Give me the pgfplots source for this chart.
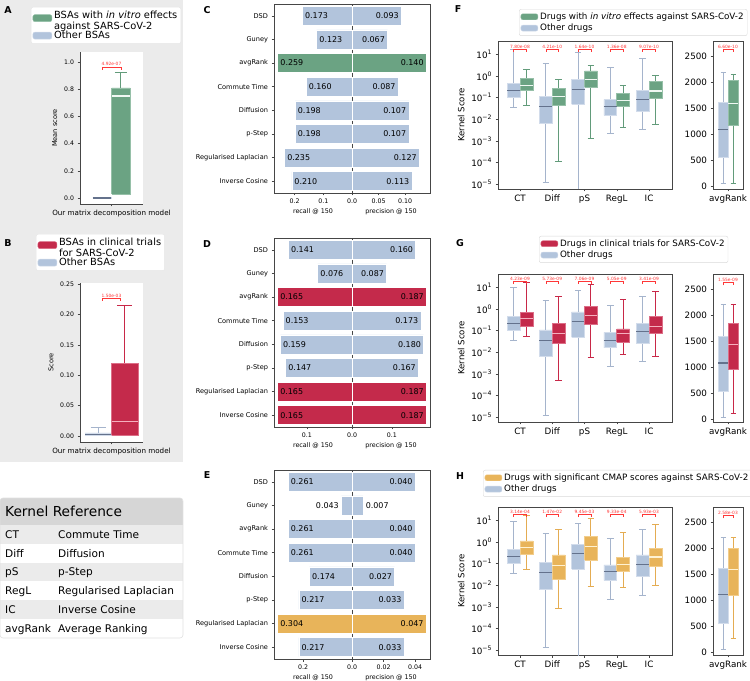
\documentclass[border=0pt]{standalone}
\usepackage{fontspec}
\setmainfont{DejaVu Sans}
\usepackage{pgfplots}
\pgfplotsset{compat=1.18}
\definecolor{steel}{RGB}{178,196,220}
\definecolor{steeledge}{RGB}{210,220,235}
\definecolor{steelwhisk}{RGB}{165,180,204}
\definecolor{steelmed}{RGB}{100,114,140}
\definecolor{gfill}{RGB}{107,163,131}
\definecolor{gedge}{RGB}{150,192,168}
\definecolor{gwhisk}{RGB}{98,155,122}
\definecolor{gmed}{RGB}{240,248,243}
\definecolor{rfill}{RGB}{196,42,75}
\definecolor{redge}{RGB}{220,110,135}
\definecolor{rwhisk}{RGB}{200,40,72}
\definecolor{rmed}{RGB}{245,175,190}
\definecolor{ofill}{RGB}{232,180,90}
\definecolor{oedge}{RGB}{242,205,140}
\definecolor{owhisk}{RGB}{228,172,82}
\definecolor{omed}{RGB}{255,242,210}
\definecolor{bgpanel}{RGB}{235,235,235}
\definecolor{hdr}{RGB}{214,214,214}
\definecolor{spine}{RGB}{70,70,70}
\definecolor{pcol}{RGB}{255,55,55}

% box half width and cap half width (axis units)
\def\bhw{0.2}\def\chw{0.1}
% box: centre x, lower whisker, q1, median, q3, upper whisker, style prefix (s,g,r,o)
\newcommand{\kb}[7]{%
 \pgfmathsetmacro\xl{#1-\bhw}\pgfmathsetmacro\xr{#1+\bhw}\pgfmathsetmacro\cl{#1-\chw}\pgfmathsetmacro\cra{#1+\chw}%
 \edef\tmp{%
 \noexpand\addplot[forget plot,#7whisk] coordinates {(#1,#2) (#1,#3)};
 \noexpand\addplot[forget plot,#7whisk] coordinates {(#1,#5) (#1,#6)};
 \noexpand\addplot[forget plot,#7whisk] coordinates {(\cl,#2) (\cra,#2)};
 \noexpand\addplot[forget plot,#7whisk] coordinates {(\cl,#6) (\cra,#6)};
 \noexpand\addplot[forget plot,#7boxst] coordinates {(\xl,#3) (\xr,#3) (\xr,#5) (\xl,#5) (\xl,#3)};
 \noexpand\addplot[forget plot,#7medst] coordinates {(\xl,#4) (\xr,#4)};}\tmp}
% p-value bracket: xl, xr, xc, ytop, ybottom, text
\newcommand{\pv}[6]{\draw[pcol,line width=0.5bp] (axis cs:#1,#5) -- (axis cs:#1,#4) -- (axis cs:#2,#4) -- (axis cs:#2,#5);
\node[pcol,font=\fontsize{4.4}{5}\selectfont,anchor=south,inner sep=0.6bp] at (axis cs:#3,#4) {#6};}

\pgfplotsset{
 base/.style={scale only axis, axis line style={spine,line width=0.6bp}, every tick/.style={spine,line width=0.5bp}, tick align=outside, major tick length=2.5bp, tick pos=left, scaled ticks=false, /pgf/number format/assume math mode=true, /pgf/number format/1000 sep={}, legend cell align=left, legend image code/.code={\draw[##1] (0bp,-3bp) rectangle (17bp,3bp);}},
 swhisk/.style={draw=steelwhisk, line width=1bp, mark=none},
 sboxst/.style={draw=steeledge, fill=steel, line width=0.7bp, mark=none},
 smedst/.style={draw=steelmed, line width=1.1bp, mark=none},
 gwhisk/.style={draw=gwhisk, line width=1bp, mark=none},
 gboxst/.style={draw=gedge, fill=gfill, line width=0.7bp, mark=none},
 gmedst/.style={draw=gmed, line width=1.1bp, mark=none},
 rwhisk/.style={draw=rwhisk, line width=1bp, mark=none},
 rboxst/.style={draw=redge, fill=rfill, line width=0.7bp, mark=none},
 rmedst/.style={draw=rmed, line width=1.1bp, mark=none},
 owhisk/.style={draw=owhisk, line width=1bp, mark=none},
 oboxst/.style={draw=oedge, fill=ofill, line width=0.7bp, mark=none},
 omedst/.style={draw=omed, line width=1.1bp, mark=none},
 bars/.style={xbar, bar width=0.8, bar shift=0pt, draw=white, line width=0.5bp},
 lab/.style 2 args={draw=none, mark=none, point meta=x, nodes near coords={\pgfmathprintnumber[fixed,fixed zerofill,precision=3]{\pgfplotspointmeta}}, every node near coord/.append style={font=\fontsize{8}{9}\selectfont, inner sep=0.5bp, anchor=#1, xshift=#2, text=black}},
 barleft/.style={base, width=78bp, height=189bp, x dir=reverse, y dir=reverse, xmin=0, ymin=-0.5, ymax=7.5,
   ytick={0,1,2,3,4,5,6,7}, yticklabels={DSD,Guney,avgRank,Commute Time,Diffusion,p-Step,Regularised Laplacian,Inverse Cosine},
   xlabel={recall @ 150}, tick label style={font=\fontsize{6.3}{7}\selectfont}, yticklabel style={font=\fontsize{6.6}{7.5}\selectfont}, xlabel style={font=\fontsize{6.4}{7}\selectfont, yshift=2bp}, anchor=south west},
 barright/.style={base, width=78bp, height=189bp, y dir=reverse, xmin=0, ymin=-0.5, ymax=7.5, ytick=\empty,
   xlabel={precision @ 150}, tick label style={font=\fontsize{6.3}{7}\selectfont}, xlabel style={font=\fontsize{6.4}{7}\selectfont, yshift=2bp}, anchor=south west},
 kern/.style={base, width=174bp, height=148bp, anchor=south west, ymin=6.07e-6, ymax=40.7, xmin=-0.682, xmax=4.713,
   xtick={0,1,2,3,4}, xticklabels={CT,Diff,pS,RegL,IC},
   ytick={1e-5,1e-4,1e-3,1e-2,1e-1,1,10},
   yticklabels={10\textsuperscript{−5},10\textsuperscript{−4},10\textsuperscript{−3},10\textsuperscript{−2},10\textsuperscript{−1},10\textsuperscript{0},10\textsuperscript{1}},
   yminorticks=false, ylabel={Kernel Score},
   tick label style={font=\fontsize{8.8}{10}\selectfont}, ylabel style={font=\fontsize{8.6}{10}\selectfont},
   legend style={anchor=north west, font=\fontsize{8.8}{10}\selectfont, draw=black!15, fill=white, rounded corners=2bp, inner sep=1.5bp, row sep=-0.8bp}},
 avgr/.style={base, width=30bp, height=148bp, anchor=south west, xmin=-0.6, xmax=0.6, ymin=-58, ymax=2788,
   xtick={0}, xticklabels={avgRank}, ytick={0,500,1000,1500,2000,2500},
   tick label style={font=\fontsize{8.8}{10}\selectfont}},
 bsa/.style={base, width=63bp, height=152bp, anchor=south west, axis x line*=bottom, axis y line*=left, axis line style={-},
   axis background/.style={fill=white}, xmin=-0.5, xmax=0.5, xtick={0}, xticklabels={Our matrix decomposition model},
   tick label style={font=\fontsize{6.2}{7}\selectfont}, xticklabel style={font=\fontsize{7.2}{8}\selectfont},
   ylabel style={font=\fontsize{6.6}{7.5}\selectfont},
   legend image code/.code={\draw[##1] (0bp,-3.5bp) rectangle (19bp,3.5bp);},
   legend style={anchor=north west, font=\fontsize{9.9}{11}\selectfont, draw=black!10, fill=white, rounded corners=2bp, inner sep=1.5bp, row sep=1.5bp}},
}

\begin{document}
\begin{tikzpicture}[x=1bp,y=1bp]
\path[use as bounding box] (0,0) rectangle (750,681);
% gray panel behind A and B
\fill[bgpanel] (0,219) rectangle (183,681);

% ---------------- Panel A ----------------
\begin{axis}[bsa, at={(80bp,477bp)}, ymin=-0.044, ymax=1.074,
  ytick={0,0.2,0.4,0.6,0.8,1}, yticklabel style={/pgf/number format/.cd, fixed, fixed zerofill, precision=1},
  ylabel={Mean score}, legend style={at={(-0.778,1.296)}}]
\addlegendimage{fill=gfill, draw=gedge}
\addlegendentry{\begin{tabular}{@{}l@{}}BSAs with \textit{in vitro} effects\\against SARS-CoV-2\end{tabular}}
\addlegendimage{fill=steel, draw=steeledge}
\addlegendentry{Other BSAs}
\def\bhw{0.146}\def\chw{0.095}
\kb{-0.15}{0}{0}{0}{0.002}{0.002}{s}
\kb{0.15}{0.03}{0.03}{0.75}{0.81}{0.92}{g}
\pv{-0.15}{0.15}{0}{0.965}{0.945}{4.92e-07}
\end{axis}

% ---------------- Panel B ----------------
\begin{axis}[bsa, at={(80bp,239bp)}, height=159bp, ymin=-0.0099, ymax=0.2516,
  ytick={0,0.05,0.1,0.15,0.2,0.25}, yticklabel style={/pgf/number format/.cd, fixed, fixed zerofill, precision=2},
  ylabel={Score}, legend style={at={(-0.698,1.308)}}]
\addlegendimage{fill=rfill, draw=redge}
\addlegendentry{\begin{tabular}{@{}l@{}}BSAs in clinical trials\\for SARS-CoV-2\end{tabular}}
\addlegendimage{fill=steel, draw=steeledge}
\addlegendentry{Other BSAs}
\def\bhw{0.21}\def\chw{0.12}
\kb{-0.21}{0}{0.001}{0.003}{0.005}{0.014}{s}
\kb{0.21}{0}{0.001}{0.024}{0.12}{0.215}{r}
\pv{-0.15}{0.14}{0}{0.2264}{0.222}{1.50e-03}
\end{axis}

% ---------------- Kernel table ----------------
\fill[white, rounded corners=3bp] (0,43) rectangle (183,183);
\begin{scope}
\clip[rounded corners=3bp] (0,43) rectangle (183,183);
\fill[hdr] (0,156) rectangle (183,183);
\fill[bgpanel] (0,137.17) rectangle (183,156);
\fill[bgpanel] (0,99.5) rectangle (183,118.33);
\fill[bgpanel] (0,61.83) rectangle (183,80.67);
\end{scope}
\draw[black!12, line width=0.6bp, rounded corners=3bp] (0,43) rectangle (183,183);
\node[anchor=base west, inner sep=0, font=\fontsize{13.8}{15}\selectfont] at (5,164.7) {Kernel Reference};
\begin{scope}[every node/.style={anchor=base west, inner sep=0, font=\fontsize{10.6}{12}\selectfont}]
\node at (5,142.8) {CT};      \node at (58,142.8) {Commute Time};
\node at (5,123.95) {Diff};   \node at (58,123.95) {Diffusion};
\node at (5,105.1) {pS};      \node at (58,105.1) {p-Step};
\node at (5,86.3) {RegL};     \node at (58,86.3) {Regularised Laplacian};
\node at (5,67.45) {IC};      \node at (58,67.45) {Inverse Cosine};
\node at (5,48.6) {avgRank};  \node at (58,48.6) {Average Ranking};
\end{scope}

% ---------------- Panel C ----------------
\begin{axis}[barleft, at={(274bp,488bp)}, xmax=0.272, xtick={0,0.1,0.2}, xticklabels={0.0,0.1,0.2}]
\addplot[bars, fill=steel] coordinates {(0.173,0) (0.123,1) (0.160,3) (0.198,4) (0.198,5) (0.235,6) (0.210,7)};
\addplot[bars, fill=gfill] coordinates {(0.259,2)};
\addplot[lab={west}{2bp}] coordinates {(0.173,0) (0.123,1) (0.259,2) (0.160,3) (0.198,4) (0.198,5) (0.235,6) (0.210,7)};
\end{axis}
\begin{axis}[barright, at={(352bp,488bp)}, xmax=0.147, xtick={0.05,0.10}, xticklabels={0.05,0.10}]
\addplot[bars, fill=steel] coordinates {(0.093,0) (0.067,1) (0.087,3) (0.107,4) (0.107,5) (0.127,6) (0.113,7)};
\addplot[bars, fill=gfill] coordinates {(0.140,2)};
\addplot[lab={east}{-2bp}] coordinates {(0.093,0) (0.067,1) (0.140,2) (0.087,3) (0.107,4) (0.107,5) (0.127,6) (0.113,7)};
\end{axis}

% ---------------- Panel D ----------------
\begin{axis}[barleft, at={(274bp,254bp)}, xmax=0.173, xtick={0,0.1}, xticklabels={0.0,0.1}]
\addplot[bars, fill=steel] coordinates {(0.141,0) (0.076,1) (0.153,3) (0.159,4) (0.147,5)};
\addplot[bars, fill=rfill] coordinates {(0.165,2) (0.165,6) (0.165,7)};
\addplot[lab={west}{2bp}] coordinates {(0.141,0) (0.076,1) (0.165,2) (0.153,3) (0.159,4) (0.147,5) (0.165,6) (0.165,7)};
\end{axis}
\begin{axis}[barright, at={(352bp,254bp)}, xmax=0.196, xtick={0.1}, xticklabels={0.1}]
\addplot[bars, fill=steel] coordinates {(0.160,0) (0.087,1) (0.173,3) (0.180,4) (0.167,5)};
\addplot[bars, fill=rfill] coordinates {(0.187,2) (0.187,6) (0.187,7)};
\addplot[lab={east}{-2bp}] coordinates {(0.160,0) (0.087,1) (0.187,2) (0.173,3) (0.180,4) (0.167,5) (0.187,6) (0.187,7)};
\end{axis}

% ---------------- Panel E ----------------
\begin{axis}[barleft, at={(274bp,22bp)}, xmax=0.319, xtick={0,0.2}, xticklabels={0.0,0.2}]
\addplot[bars, fill=steel] coordinates {(0.261,0) (0.043,1) (0.261,2) (0.261,3) (0.174,4) (0.217,5) (0.217,7)};
\addplot[bars, fill=ofill] coordinates {(0.304,6)};
\addplot[lab={west}{2bp}] coordinates {(0.261,0) (0.261,2) (0.261,3) (0.174,4) (0.217,5) (0.304,6) (0.217,7)};
\addplot[lab={east}{-2bp}] coordinates {(0.043,1)};
\end{axis}
\begin{axis}[barright, at={(352bp,22bp)}, xmax=0.0494, xtick={0.02,0.04}, xticklabels={0.02,0.04}]
\addplot[bars, fill=steel] coordinates {(0.040,0) (0.007,1) (0.040,2) (0.040,3) (0.027,4) (0.033,5) (0.033,7)};
\addplot[bars, fill=ofill] coordinates {(0.047,6)};
\addplot[lab={east}{-2bp}] coordinates {(0.040,0) (0.040,2) (0.040,3) (0.027,4) (0.033,5) (0.047,6) (0.033,7)};
\addplot[lab={west}{2bp}] coordinates {(0.007,1)};
\end{axis}

% ---------------- Panel F ----------------
\begin{axis}[ymode=log, kern, at={(498bp,492bp)}, legend style={at={(0.1207,1.216)}}]
\addlegendimage{fill=gfill, draw=gedge}
\addlegendentry{Drugs with \textit{in vitro} effects against SARS-CoV-2}
\addlegendimage{fill=steel, draw=steeledge}
\addlegendentry{Other drugs}
\kb{-0.2}{0.035}{0.10}{0.21}{0.46}{15.8}{s}
\kb{0.2}{0.043}{0.21}{0.35}{0.78}{2.0}{g}
\kb{0.8}{1.2e-5}{0.0063}{0.037}{0.11}{3.8}{s}
\kb{1.2}{1.15e-4}{0.043}{0.107}{0.27}{0.68}{g}
\kb{1.8}{1e-7}{0.049}{0.24}{0.68}{12.4}{s}
\kb{2.2}{1.3e-3}{0.30}{0.71}{1.7}{2.9}{g}
\kb{2.8}{2.2e-3}{0.015}{0.037}{0.081}{2.4}{s}
\kb{3.2}{4.2e-3}{0.04}{0.072}{0.15}{0.35}{g}
\kb{3.8}{3.5e-3}{0.024}{0.083}{0.22}{6.1}{s}
\kb{4.2}{5.9e-3}{0.09}{0.2}{0.56}{1.03}{g}
\pv{-0.2}{0.2}{0}{17}{13.3}{7.80e-08}
\pv{0.8}{1.2}{1}{17}{13.3}{4.21e-10}
\pv{1.8}{2.2}{2}{17}{13.3}{1.64e-10}
\pv{2.8}{3.2}{3}{17}{13.3}{1.36e-08}
\pv{3.8}{4.2}{4}{17}{13.3}{9.07e-10}
\end{axis}
\begin{axis}[avgr, at={(713bp,492bp)}]
\kb{-0.2}{45}{553}{1080}{1607}{2190}{s}
\kb{0.2}{51}{1170}{1594}{2031}{2150}{g}
\pv{-0.2}{0.2}{0}{2630}{2570}{6.60e-10}
\end{axis}

% ---------------- Panel G ----------------
\begin{axis}[ymode=log, kern, at={(498bp,259bp)}, legend style={at={(0.2356,1.257)}}]
\addlegendimage{fill=rfill, draw=redge}
\addlegendentry{Drugs in clinical trials for SARS-CoV-2}
\addlegendimage{fill=steel, draw=steeledge}
\addlegendentry{Other drugs}
\kb{-0.2}{0.035}{0.104}{0.22}{0.43}{9.3}{s}
\kb{0.2}{0.051}{0.158}{0.36}{0.66}{15.8}{r}
\kb{0.8}{1.25e-5}{0.0062}{0.036}{0.107}{2.4}{s}
\kb{1.2}{5.2e-4}{0.025}{0.072}{0.22}{3.8}{r}
\kb{1.8}{1e-7}{0.049}{0.25}{0.72}{7.3}{s}
\kb{2.2}{5.5e-3}{0.19}{0.49}{1.3}{12.7}{r}
\kb{2.8}{2.3e-3}{0.016}{0.036}{0.083}{1.4}{s}
\kb{3.2}{7.9e-3}{0.029}{0.072}{0.12}{2.6}{r}
\kb{3.8}{3.6e-3}{0.025}{0.087}{0.21}{3.8}{s}
\kb{4.2}{6.7e-3}{0.072}{0.158}{0.43}{6.3}{r}
\pv{-0.2}{0.2}{0}{18}{14}{4.23e-09}
\pv{0.8}{1.2}{1}{18}{14}{5.73e-09}
\pv{1.8}{2.2}{2}{18}{14}{7.06e-09}
\pv{2.8}{3.2}{3}{18}{14}{5.05e-09}
\pv{3.8}{4.2}{4}{18}{14}{3.41e-09}
\end{axis}
\begin{axis}[avgr, at={(713bp,259bp)}]
\kb{-0.2}{32}{538}{1077}{1583}{2199}{s}
\kb{0.2}{96}{949}{1436}{1840}{2199}{r}
\pv{-0.2}{0.2}{0}{2630}{2570}{1.55e-09}
\end{axis}

% ---------------- Panel H ----------------
\begin{axis}[ymode=log, kern, at={(498bp,26bp)}, legend style={at={(-0.086,1.25)}}]
\addlegendimage{fill=ofill, draw=oedge}
\addlegendentry{Drugs with significant CMAP scores against SARS-CoV-2}
\addlegendimage{fill=steel, draw=steeledge}
\addlegendentry{Other drugs}
\kb{-0.2}{0.036}{0.104}{0.22}{0.46}{8.7}{s}
\kb{0.2}{0.051}{0.27}{0.55}{1.1}{15.8}{o}
\kb{0.8}{1.3e-5}{0.0066}{0.038}{0.114}{2.4}{s}
\kb{1.2}{8.7e-4}{0.018}{0.078}{0.25}{3.8}{o}
\kb{1.8}{1e-7}{0.055}{0.28}{0.78}{7.3}{s}
\kb{2.2}{8.9e-3}{0.148}{0.59}{1.8}{12.4}{o}
\kb{2.8}{2.3e-3}{0.017}{0.043}{0.087}{1.4}{s}
\kb{3.2}{8.1e-3}{0.046}{0.087}{0.2}{2.7}{o}
\kb{3.8}{3.5e-3}{0.026}{0.093}{0.25}{3.8}{s}
\kb{4.2}{9.3e-3}{0.078}{0.2}{0.51}{6.3}{o}
\pv{-0.2}{0.2}{0}{18}{14}{3.14e-04}
\pv{0.8}{1.2}{1}{18}{14}{1.47e-02}
\pv{1.8}{2.2}{2}{18}{14}{9.45e-03}
\pv{2.8}{3.2}{3}{18}{14}{9.33e-04}
\pv{3.8}{4.2}{4}{18}{14}{5.93e-03}
\end{axis}
\begin{axis}[avgr, at={(713bp,26bp)}]
\kb{-0.2}{45}{555}{1097}{1614}{2194}{s}
\kb{0.2}{268}{1097}{1582}{1996}{2194}{o}
\pv{-0.2}{0.2}{0}{2630}{2570}{2.58e-03}
\end{axis}

% ---------------- panel letters ----------------
\begin{scope}[every node/.style={font=\bfseries\fontsize{9.5}{10}\selectfont, inner sep=0}]
\node at (8,671) {A};
\node at (8,438) {B};
\node at (207,671) {C};
\node at (207,437) {D};
\node at (207,206) {E};
\node at (458,672) {F};
\node at (460,438) {G};
\node at (460,205) {H};
\end{scope}
\end{tikzpicture}
\end{document}
